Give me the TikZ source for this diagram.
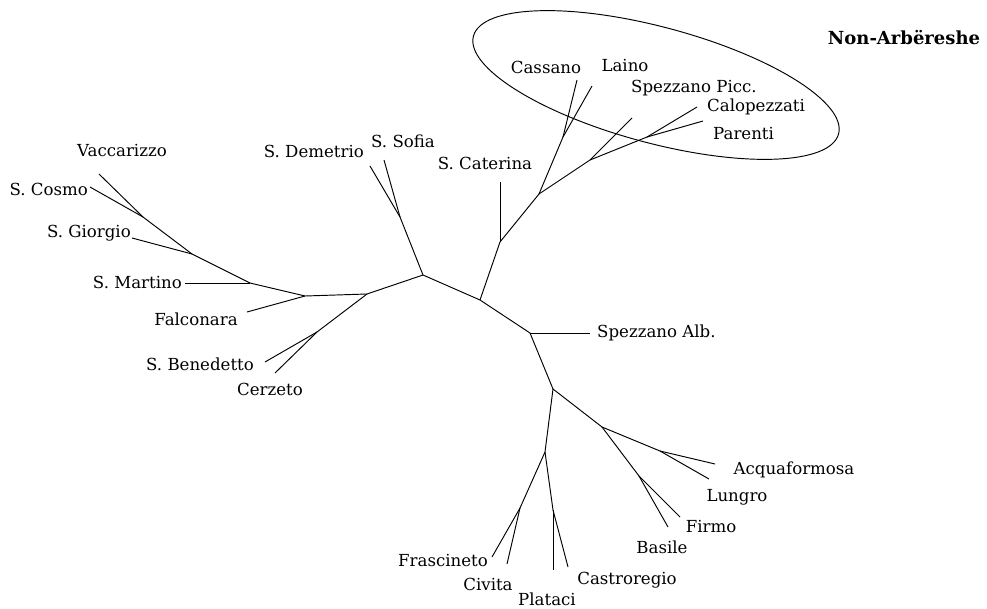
\documentclass[tikz,border=0pt]{standalone}
\usepackage{fontspec}
\setmainfont{DejaVu Serif}
\begin{document}
\begin{tikzpicture}[x=1pt,y=-1pt,
  br/.style={line width=0.95pt},
  lab/.style={inner sep=0pt,font=\fontsize{16.6}{19}\selectfont},
  cl/.style={line width=0.95pt}]
\useasboundingbox (0,0) rectangle (987,608);
% internal nodes
\coordinate (A) at (423,275);
\coordinate (B) at (480,300);
\coordinate (C) at (500,242);
\coordinate (D) at (539,194);
\coordinate (CL) at (563,137);
\coordinate (F) at (590,160);
\coordinate (Gc) at (647,137);
\coordinate (G) at (530,333);
\coordinate (H) at (553,389);
\coordinate (I) at (602,427);
\coordinate (J) at (660,451);
\coordinate (K) at (639,476);
\coordinate (L) at (545,452);
\coordinate (M) at (520,508);
\coordinate (N) at (553,510);
\coordinate (J7) at (400,217);
\coordinate (J5) at (367,294);
\coordinate (J6) at (317,332);
\coordinate (J4) at (305,296);
\coordinate (J3) at (250,283);
\coordinate (J2) at (192,254);
\coordinate (J1) at (143,217);
% leaves
\coordinate (lCassano) at (577,80);
\coordinate (lLaino) at (592,86);
\coordinate (lSpPicc) at (632,118);
\coordinate (lCalo) at (697,107);
\coordinate (lParenti) at (703,121);
\coordinate (lCaterina) at (500,182);
\coordinate (lSpAlb) at (590,333);
\coordinate (lAcqua) at (715,464);
\coordinate (lLungro) at (709,479);
\coordinate (lFirmo) at (680,517);
\coordinate (lBasile) at (668,527);
\coordinate (lFrasc) at (492,557);
\coordinate (lCivita) at (507,564);
\coordinate (lPlataci) at (553,570);
\coordinate (lCastro) at (568,567);
\coordinate (lDemetrio) at (370,166);
\coordinate (lSofia) at (384,160);
\coordinate (lBenedetto) at (265,362);
\coordinate (lCerzeto) at (275,373);
\coordinate (lFalconara) at (247,312);
\coordinate (lMartino) at (185,283);
\coordinate (lGiorgio) at (132,238);
\coordinate (lVacc) at (99,174);
\coordinate (lCosmo) at (90,187);
% branches
\draw[br] (A) -- (B);
\draw[br] (A) -- (J7);
\draw[br] (A) -- (J5);
\draw[br] (J7) -- (lDemetrio);
\draw[br] (J7) -- (lSofia);
\draw[br] (J5) -- (J4);
\draw[br] (J5) -- (J6);
\draw[br] (J6) -- (lBenedetto);
\draw[br] (J6) -- (lCerzeto);
\draw[br] (J4) -- (lFalconara);
\draw[br] (J4) -- (J3);
\draw[br] (J3) -- (lMartino);
\draw[br] (J3) -- (J2);
\draw[br] (J2) -- (lGiorgio);
\draw[br] (J2) -- (J1);
\draw[br] (J1) -- (lVacc);
\draw[br] (J1) -- (lCosmo);
\draw[br] (B) -- (C);
\draw[br] (C) -- (lCaterina);
\draw[br] (C) -- (D);
\draw[br] (D) -- (CL);
\draw[br] (CL) -- (lCassano);
\draw[br] (CL) -- (lLaino);
\draw[br] (D) -- (F);
\draw[br] (F) -- (lSpPicc);
\draw[br] (F) -- (Gc);
\draw[br] (Gc) -- (lCalo);
\draw[br] (Gc) -- (lParenti);
\draw[br] (B) -- (G);
\draw[br] (G) -- (lSpAlb);
\draw[br] (G) -- (H);
\draw[br] (H) -- (I);
\draw[br] (I) -- (J);
\draw[br] (J) -- (lAcqua);
\draw[br] (J) -- (lLungro);
\draw[br] (I) -- (K);
\draw[br] (K) -- (lFirmo);
\draw[br] (K) -- (lBasile);
\draw[br] (H) -- (L);
\draw[br] (L) -- (M);
\draw[br] (M) -- (lFrasc);
\draw[br] (M) -- (lCivita);
\draw[br] (L) -- (N);
\draw[br] (N) -- (lPlataci);
\draw[br] (N) -- (lCastro);
% ellipse around the non-Arbereshe group
\draw[cl, rotate around={-15:(656,85)}] (656,85) ellipse [x radius=189pt, y radius=58pt];
% labels
\node[lab] (tVacc) at (122,151) {Vaccarizzo};
\node[lab,anchor=east] (tCosmo) at (88,189) {S. Cosmo};
\node[lab,anchor=east] (tGiorgio) at (131,233) {S. Giorgio};
\node[lab,anchor=east] (tMartino) at (182,282) {S. Martino};
\node[lab] (tFalconara) at (196,319) {Falconara};
\node[lab] (tBenedetto) at (200,364) {S. Benedetto};
\node[lab] (tCerzeto) at (270,389) {Cerzeto};
\node[lab,anchor=east] (tDemetrio) at (364,151) {S. Demetrio};
\node[lab] (tSofia) at (403,141) {S. Sofia};
\node[lab] (tCaterina) at (485,163) {S. Caterina};
\node[lab] (tCassano) at (546,67) {Cassano};
\node[lab] (tLaino) at (625,66) {Laino};
\node[lab,anchor=west] (tSpPicc) at (631,88) {Spezzano Picc.};
\node[lab,anchor=west] (tCalo) at (707,107) {Calopezzati};
\node[lab,anchor=west] (tParenti) at (713,134) {Parenti};
\node[lab,anchor=west] (tSpAlb) at (597,333) {Spezzano Alb.};
\node[lab] (tAcqua) at (794,470) {Acquaformosa};
\node[lab] (tLungro) at (737,497) {Lungro};
\node[lab] (tFirmo) at (711,527) {Firmo};
\node[lab] (tBasile) at (662,547) {Basile};
\node[lab] (tFrasc) at (443,561) {Frascineto};
\node[lab] (tCivita) at (488,584) {Civita};
\node[lab] (tPlataci) at (547,599) {Plataci};
\node[lab] (tCastro) at (627,580) {Castroregio};
\node[lab,font=\fontsize{18}{20}\selectfont\bfseries] (tNon) at (904,38) {Non-Arbëreshe};
\end{tikzpicture}
\end{document}
